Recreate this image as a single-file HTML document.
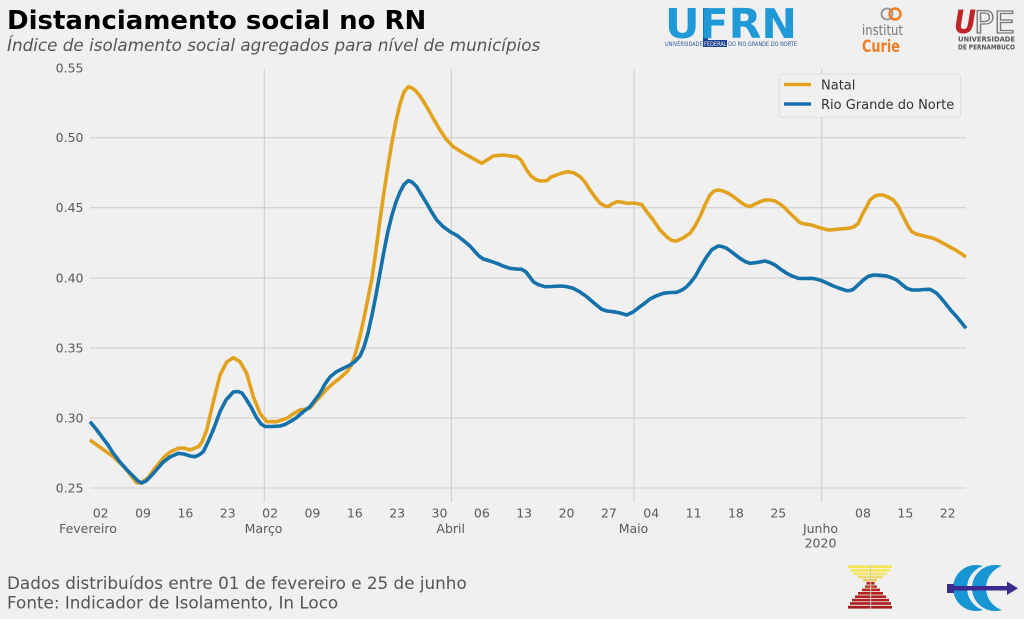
<!DOCTYPE html>
<html>
<head>
<meta charset="utf-8">
<style>
html,body{margin:0;padding:0;background:#f0f0f0;}
svg{display:block;}
text{font-family:"DejaVu Sans","Liberation Sans",sans-serif;}
</style>
</head>
<body>
<svg width="1024" height="619" viewBox="0 0 1024 619" xmlns="http://www.w3.org/2000/svg">
<rect x="0" y="0" width="1024" height="619" fill="#f0f0f0"/>

<!-- Title -->
<text x="7" y="29" font-size="26" font-weight="bold" fill="#000">Distanciamento social no RN</text>
<text x="7" y="51" font-size="16.8" font-style="italic" fill="#555">Índice de isolamento social agregados para nível de municípios</text>

<!-- gridlines -->
<g stroke="#cbcbcb" stroke-width="1">
<line x1="90" y1="137.7" x2="966" y2="137.7"/>
<line x1="90" y1="207.7" x2="966" y2="207.7"/>
<line x1="90" y1="278" x2="966" y2="278"/>
<line x1="90" y1="348" x2="966" y2="348"/>
<line x1="90" y1="418" x2="966" y2="418"/>
<line x1="90" y1="488" x2="966" y2="488"/>
<line x1="264.3" y1="69" x2="264.3" y2="502"/>
<line x1="451.3" y1="69" x2="451.3" y2="502"/>
<line x1="634" y1="69" x2="634" y2="502"/>
<line x1="821.7" y1="69" x2="821.7" y2="502"/>
</g>

<!-- y tick labels -->
<g font-size="12.5" fill="#5a5a5a" text-anchor="end">
<text x="83.5" y="72.5">0.55</text>
<text x="83.5" y="142.2">0.50</text>
<text x="83.5" y="212.2">0.45</text>
<text x="83.5" y="282.5">0.40</text>
<text x="83.5" y="352.5">0.35</text>
<text x="83.5" y="422.5">0.30</text>
<text x="83.5" y="492.5">0.25</text>
</g>

<!-- x tick labels -->
<g font-size="12.5" fill="#5a5a5a" text-anchor="middle">
<text x="100.7" y="517.3">02</text>
<text x="143.05" y="517.3">09</text>
<text x="185.4" y="517.3">16</text>
<text x="227.75" y="517.3">23</text>
<text x="270.1" y="517.3">02</text>
<text x="312.45" y="517.3">09</text>
<text x="354.8" y="517.3">16</text>
<text x="397.15" y="517.3">23</text>
<text x="439.5" y="517.3">30</text>
<text x="481.85" y="517.3">06</text>
<text x="524.2" y="517.3">13</text>
<text x="566.55" y="517.3">20</text>
<text x="608.9" y="517.3">27</text>
<text x="651.25" y="517.3">04</text>
<text x="693.6" y="517.3">11</text>
<text x="735.95" y="517.3">18</text>
<text x="778.3" y="517.3">25</text>
<text x="863" y="517.3">08</text>
<text x="905.35" y="517.3">15</text>
<text x="947.7" y="517.3">22</text>
<text x="88" y="532.9">Fevereiro</text>
<text x="263.5" y="532.9">Março</text>
<text x="450.7" y="532.9">Abril</text>
<text x="633.5" y="532.9">Maio</text>
<text x="820.5" y="532.9">Junho</text>
<text x="820.5" y="547.3">2020</text>
</g>

<!-- Natal -->
<polyline fill="none" stroke="#e3a21e" stroke-width="3.6" stroke-linejoin="round" stroke-linecap="butt" points="
90,440 101,448 113.3,456.7 125,468 136.7,482.7 141,483 148,478 155,468 163.3,458 170,452 178.3,448.3 184,448 190,450 198.3,446.7 202,442 206.7,430 213,403 220,375 226.7,362 233.3,357.7 240,361.7 246.7,373.3 253.3,396.7 260,413.3 266.7,421.7 276.7,421.7 286.7,418.3 293,414 300,410 306,409 310,408 315,402 320,396.7 326,390 333.3,383.3 340,378 346.7,372 351,366 354,358 356.7,349 360,336 364,318 368,298 372,278 376,250 380,220 384,192 388,166 392,142 396,121 400,104 404,92 408.3,86.7 412,88 415,90 420,96 426.7,106.7 433,118 440,130 446,139 453.3,146.7 460,151 466.7,155 474,159 481.7,163.3 487,160 493.3,156 503.3,155 510,156 516.7,156.7 521,160 526.7,170 531,176 536.7,180 541,181 546.7,180.7 551,177 556.7,175 562,173 568.3,171.7 574,173 580,176.7 585,182 590,190 595,197 600,203.3 605,206 608.3,206.7 612,204 616.7,201.7 621,202 626.7,203.3 634,203 641.7,204.5 646.7,211.7 653.3,220 660,230 667,237 672,240.5 676.7,241 683,238 690,233.3 695,226 700,216.7 705,205 710,195 714,191 718.3,190 723,191 728.3,193.3 734,197 740,201.7 745,205 750,206.7 755,204 760,201.7 765,200 770,200 775,201 780,204 785,208 790,213.3 795,218 800,222.7 805,224 811.7,225 816,226.5 821.7,228.3 826,229.5 830,230 835,229.5 840,229 846,228.5 851.7,227.7 855,226 858.3,223.3 862,215 866.7,206.7 870,200 875,196 879,195 883.3,195 888,197 893.3,200 898,206 903.3,216.7 908,226 911.7,231.7 916,234 920,235 926,236.5 933.3,238.3 938,240.5 943.3,243.3 950,247 956.7,250.7 961,253.5 966,257"/>

<!-- Rio Grande do Norte -->
<polyline fill="none" stroke="#1471aa" stroke-width="3.6" stroke-linejoin="round" stroke-linecap="butt" points="
90,421.7 96,429 102,437 108,445 113.3,453.3 120,462 127,470 134,477 138,481 141.7,483 146,481 152,475 158,468 163.3,462 170,457 178.3,453.3 184,454 190,456 195,456.7 199,455 203.3,451.7 208,442 214,428 220,411.7 226,400 233.3,392 238,391.5 242,393 246.7,400 251,407 256.7,418 261,424 265,426.5 272,426.5 280,426 285,424.5 290,421.7 296,418 303,412 310,406.7 315,400 320,393.3 325,384 330,377 336,372 343.3,368.3 350,365 355,361.5 360,356 364,347 368,333 372,315 376,295 380,273 384,251 388,231 392,215 396,202 400,192 404,184.5 408.3,180.7 412,182 416.7,186.7 421,194 426.7,203.3 431,211 436.7,220 443,226.5 450,231.7 457,235.5 465,241.7 470,246 475,251.7 479,256 483.3,259 490,261 496.7,263.3 503,266 510,268.3 516,269 521.7,269.3 526,272 533.3,281.7 538,284.5 545,286.7 552,286.5 560,286 566,286.5 573.3,288.3 580,292 586.7,296.7 594,303 601.7,309.3 607,311 613.3,311.7 620,313 626.7,315 633,312 640,306.7 645,303 650,299 656,296 663.3,293.3 670,292.5 676.7,292.3 682,290 686.7,286.7 691,282 695,276.7 701,266 706.7,256.7 712,249.5 718.3,246 722,246.5 726.7,248.3 733,253 740,258.3 745,261.5 750,263.3 757,262.5 765,261 770,262.5 775,265 781,269.5 786.7,273.3 792,276 798.3,278.3 805,278.5 811.7,278.3 816,279 821.7,280.7 828,283.5 833.3,286 840,288.5 846.7,290.7 850,290.5 853.3,289.3 858,285 863.3,280 868,276.5 873.3,275 880,275.3 886.7,276 891,277.5 896.7,280 902,284.5 906.7,288.3 912,290 918.3,290 924,289.5 930,289.3 933,291 936.7,293.3 941,298 946.7,305 951,310.5 956.7,316.7 961,322 966,328.3"/>

<!-- Legend -->
<rect x="779.3" y="74" width="181.4" height="43.3" rx="3" ry="3" fill="#f0f0f0" stroke="#dcdcdc" stroke-width="1"/>
<line x1="784" y1="84.5" x2="811" y2="84.5" stroke="#e3a21e" stroke-width="3.6"/>
<line x1="784" y1="104" x2="811" y2="104" stroke="#1471aa" stroke-width="3.6"/>
<text x="821" y="89.5" font-size="13" fill="#333">Natal</text>
<text x="821" y="109" font-size="13" fill="#333">Rio Grande do Norte</text>

<!-- Footer -->
<text x="7" y="589" font-size="16.8" fill="#555">Dados distribuídos entre 01 de fevereiro e 25 de junho</text>
<text x="7" y="608.5" font-size="16.8" fill="#555">Fonte: Indicador de Isolamento, In Loco</text>

<!-- UFRN logo -->
<rect x="703" y="8" width="5" height="38" fill="#1d3f8f"/>
<text x="665" y="38" font-size="41" font-weight="bold" fill="#1f9ad7" textLength="132" lengthAdjust="spacingAndGlyphs">UFRN</text>
<rect x="703" y="40" width="24" height="7" fill="#1d3f8f"/>
<text x="665" y="46" font-size="6" fill="#2a5a9a" textLength="132" lengthAdjust="spacingAndGlyphs">UNIVERSIDADE <tspan fill="#ffffff">FEDERAL</tspan> DO RIO GRANDE DO NORTE</text>

<!-- Institut Curie -->
<circle cx="887" cy="14" r="5.5" fill="none" stroke="#9a9a9a" stroke-width="2"/>
<circle cx="895" cy="14" r="5.5" fill="none" stroke="#ef7d22" stroke-width="2.4"/>
<text x="862" y="35" font-size="14" fill="#777" textLength="41" lengthAdjust="spacingAndGlyphs">institut</text>
<text x="862" y="52" font-size="17" font-weight="bold" fill="#ef7d22" textLength="38" lengthAdjust="spacingAndGlyphs">Curie</text>

<!-- UPE -->
<text x="954" y="33" font-size="32" font-weight="bold" font-style="italic" fill="#c0232a" textLength="22" lengthAdjust="spacingAndGlyphs">U</text>
<text x="974" y="33" font-size="30" fill="none" stroke="#7a7a7a" stroke-width="1.3" textLength="41" lengthAdjust="spacingAndGlyphs">PE</text>
<text x="958" y="41.5" font-size="7" font-weight="bold" fill="#555" textLength="57" lengthAdjust="spacingAndGlyphs">UNIVERSIDADE</text>
<text x="958" y="49.5" font-size="7" font-weight="bold" fill="#555" textLength="57" lengthAdjust="spacingAndGlyphs">DE PERNAMBUCO</text>

<!-- Hourglass logo -->
<g>
<rect x="848" y="565.5" width="44" height="2.6" fill="#f2e44a"/>
<rect x="850" y="569" width="40" height="2.6" fill="#f4e860"/>
<rect x="853" y="572.3" width="34" height="2.6" fill="#f4e670"/>
<rect x="858" y="575.6" width="25" height="2.6" fill="#f1dc6a"/>
<rect x="863" y="578.9" width="14" height="2.6" fill="#f0c860"/>
<rect x="866.5" y="582" width="8" height="2.6" fill="#b3231e"/>
<rect x="865" y="585.3" width="12" height="2.6" fill="#c0402a"/>
<rect x="862" y="588.6" width="18" height="2.6" fill="#b8261e"/>
<rect x="858" y="592" width="25" height="2.6" fill="#b3231e"/>
<rect x="855" y="595.4" width="31" height="2.6" fill="#b3231e"/>
<rect x="852" y="598.8" width="37" height="2.6" fill="#b3231e"/>
<rect x="850" y="602.2" width="41" height="2.6" fill="#a81e1e"/>
<rect x="848" y="605.8" width="44" height="2.8" fill="#a81e1e"/>
<rect x="870" y="565" width="1.2" height="44" fill="#c8c8c8" opacity="0.8"/>
</g>

<!-- CC logo (crescents) -->
<path fill="#1896d4" d="M982.9,566.06 A23,23 0 1,0 982.9,609.94 A23.1,23.1 0 0,1 982.9,566.06 Z"/>
<path fill="#1896d4" d="M1001.9,566.06 A23,23 0 1,0 1001.9,609.94 A23.1,23.1 0 0,1 1001.9,566.06 Z"/>
<rect x="947" y="584" width="7" height="9" fill="#3b2b8e"/>
<rect x="947" y="586" width="62" height="4.5" fill="#3b2b8e"/>
<polygon points="1007,581.5 1018,588.2 1007,595" fill="#3b2b8e"/>
</svg>
</body>
</html>
